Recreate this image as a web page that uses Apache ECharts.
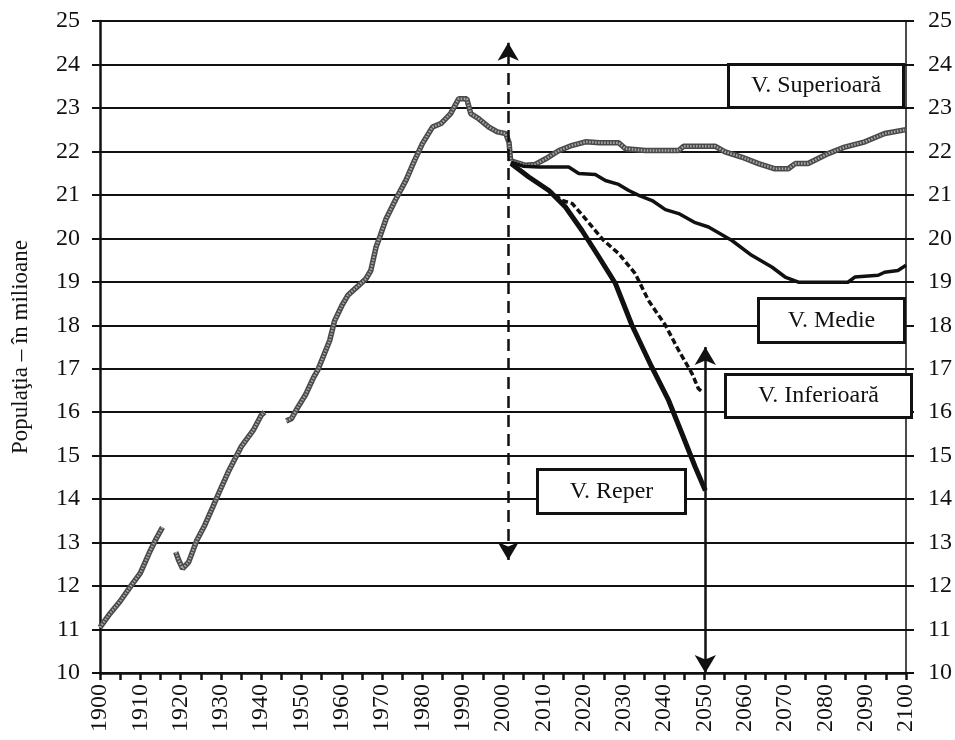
<!DOCTYPE html>
<html>
<head>
<meta charset="utf-8">
<script src="https://cdn.jsdelivr.net/npm/echarts@6/dist/echarts.min.js"></script>
<style>
  html, body { margin: 0; padding: 0; background: #fff; }
  #chart { width: 955px; height: 740px; }
</style>
</head>
<body>
<div id="chart"></div>
<script>
// historical population (millions), '-' breaks the line where data is missing
const historic = [
  [1900, 11.05], [1902.5, 11.37], [1905, 11.65], [1907.5, 11.98], [1910, 12.3], [1912.5, 12.82], [1914, 13.1], [1915.5, 13.35],
  [1917, '-'],
  [1918.8, 12.78], [1919.5, 12.6], [1920.5, 12.4], [1922, 12.55], [1924, 13.05], [1926, 13.4], [1928, 13.82], [1930, 14.25],
  [1932, 14.66], [1935, 15.2], [1938, 15.58], [1940, 15.93], [1940.8, 16.0],
  [1943, '-'],
  [1946.2, 15.8], [1947.5, 15.85], [1949, 16.1], [1951, 16.4], [1953, 16.8], [1954, 16.96], [1957, 17.65], [1958.2, 18.1],
  [1960, 18.45], [1961.5, 18.69], [1964, 18.9], [1966, 19.07], [1967.2, 19.26], [1968.5, 19.8], [1969.5, 20.05], [1971, 20.45],
  [1973.4, 20.9], [1976, 21.35], [1978, 21.78], [1980, 22.18], [1982.5, 22.56], [1984.6, 22.64], [1987, 22.87], [1989, 23.21],
  [1991, 23.21], [1992, 22.87], [1994, 22.75], [1996.5, 22.56], [1998.6, 22.45], [2000.7, 22.41], [2001.5, 22.2], [2001.9, 21.78]
];
const superioara = [
  [2002, 21.78], [2005.6, 21.68], [2008, 21.7], [2010.6, 21.83], [2013.9, 22.02], [2017.2, 22.14], [2020.5, 22.22], [2024, 22.2],
  [2028.7, 22.2], [2030.4, 22.06], [2035.3, 22.02], [2043.6, 22.02], [2044.8, 22.12], [2052.6, 22.12], [2055.1, 21.99],
  [2059.2, 21.87], [2063.4, 21.72], [2067.5, 21.6], [2070.8, 21.6], [2072.5, 21.72], [2075.7, 21.72], [2080.7, 21.95],
  [2084.8, 22.1], [2089.8, 22.22], [2094.7, 22.41], [2100, 22.5]
];
const medie = [
  [2002, 21.75], [2005, 21.66], [2008.9, 21.64], [2016.3, 21.64], [2018.8, 21.49], [2022.9, 21.47], [2025.4, 21.33],
  [2028.7, 21.24], [2031.2, 21.1], [2033.7, 20.99], [2037, 20.87], [2040.3, 20.66], [2043.6, 20.57], [2047.7, 20.36],
  [2051, 20.26], [2056.8, 19.95], [2061.7, 19.61], [2066.7, 19.34], [2070, 19.11], [2073.3, 18.99], [2085.6, 18.99],
  [2087.3, 19.11], [2093.1, 19.15], [2094.7, 19.22], [2098, 19.26], [2100, 19.38]
];
const inferioara = [
  [2002, 21.72], [2006.4, 21.41], [2011.4, 21.1], [2014.7, 20.87], [2017.2, 20.8], [2020, 20.5], [2022.9, 20.18], [2025, 19.95],
  [2028.7, 19.65], [2032.8, 19.19], [2036.1, 18.57], [2040.3, 18.0], [2043.6, 17.42], [2046.9, 16.89], [2048.5, 16.54], [2049.3, 16.48]
];
const reper = [
  [2002, 21.72], [2006.4, 21.41], [2011.4, 21.1], [2015.5, 20.72], [2019.6, 20.18], [2023.8, 19.57], [2027.9, 18.96],
  [2032, 18.0], [2036.9, 17.04], [2041.1, 16.27], [2044.4, 15.51], [2047.7, 14.74], [2050.2, 14.2]
];
// vertical double arrows: [year, from, to]
const arrowBase = [2001.3, 12.6, 24.5];
const arrowHorizon = [2050.2, 10.0, 17.5];

const labelNames = ['V. Superioară', 'V. Medie', 'V. Inferioară', 'V. Reper'];
const yAxisTitle = 'Populaţia – în milioane';

const FONT = '"Liberation Serif", "DejaVu Serif", serif';

const chart = echarts.init(document.getElementById('chart'), null, { renderer: 'canvas' });

function arrowLine(a, dashed) {
  return {
    silent: true,
    symbol: ['arrow', 'arrow'],
    symbolSize: [16, 18],
    label: { show: false },
    lineStyle: { color: '#111', width: 2.5, type: dashed ? [12, 7] : 'solid' },
    data: [[{ coord: [a[0], a[1]] }, { coord: [a[0], a[2]] }]]
  };
}

// box annotations (pixel layout)
function box(x, y, w, h, text) {
  return {
    type: 'group', left: x, top: y,
    children: [
      { type: 'rect', z: 100, shape: { x: 0, y: 0, width: w, height: h },
        style: { fill: '#fff', stroke: '#111', lineWidth: 3 } },
      { type: 'text', z: 101, x: w / 2, y: h / 2,
        style: { text: text, font: '24px ' + FONT, fill: '#111', align: 'center', verticalAlign: 'middle' } }
    ]
  };
}

const option = {
  backgroundColor: '#fff',
  animation: false,
  grid: { left: 100, right: 46, top: 21, bottom: 67 },
  xAxis: {
    type: 'value', min: 1900, max: 2100, interval: 5,
    axisLine: { lineStyle: { color: '#111', width: 2.5 } },
    axisTick: { show: true, length: 7, lineStyle: { color: '#111', width: 2.5 } },
    axisLabel: {
      rotate: 90, margin: 11, color: '#111', fontSize: 24, fontFamily: FONT,
      formatter: v => (v % 10 === 0 ? String(v) : '')
    },
    splitLine: { show: false }
  },
  yAxis: [{
    type: 'value', min: 10, max: 25, interval: 1,
    name: yAxisTitle, nameLocation: 'middle', nameGap: 68,
    nameTextStyle: { color: '#111', fontSize: 23, fontFamily: FONT },
    axisLine: { show: true, lineStyle: { color: '#111', width: 2.5 } },
    axisTick: { show: true, length: 8, lineStyle: { color: '#111', width: 2 } },
    axisLabel: { margin: 20, color: '#111', fontSize: 24, fontFamily: FONT },
    splitLine: { lineStyle: { color: '#111', width: 2 } }
  }, {
    type: 'value', min: 10, max: 25, interval: 1, position: 'right',
    axisLine: { show: true, lineStyle: { color: '#111', width: 1.5 } },
    axisTick: { show: true, length: 8, lineStyle: { color: '#111', width: 2 } },
    axisLabel: { margin: 22, color: '#111', fontSize: 24, fontFamily: FONT },
    splitLine: { show: false }
  }],
  series: [
    { name: 'istoric', type: 'line', data: historic, showSymbol: false, connectNulls: false,
      lineStyle: { color: '#4a4a4a', width: 5.5 }, z: 3 },
    { name: 'istoric-hatch', type: 'line', data: historic, showSymbol: false, connectNulls: false,
      lineStyle: { color: '#a8a8a8', width: 2.5, type: [1.5, 1.5] }, z: 4 },
    { name: labelNames[0], type: 'line', data: superioara, showSymbol: false,
      lineStyle: { color: '#4a4a4a', width: 5.5 }, z: 3 },
    { name: labelNames[0] + '-hatch', type: 'line', data: superioara, showSymbol: false,
      lineStyle: { color: '#a8a8a8', width: 2.5, type: [1.5, 1.5] }, z: 4 },
    { name: labelNames[1], type: 'line', data: medie, showSymbol: false,
      lineStyle: { color: '#111', width: 3.5 }, z: 5 },
    { name: labelNames[2], type: 'line', data: inferioara, showSymbol: false,
      lineStyle: { color: '#111', width: 3.5, type: [6, 3] }, z: 5,
      markLine: arrowLine(arrowBase, true) },
    { name: labelNames[3], type: 'line', data: reper, showSymbol: false,
      lineStyle: { color: '#111', width: 5 }, z: 6,
      markLine: arrowLine(arrowHorizon, false) }
  ],
  graphic: [
    box(727, 63, 175, 43, labelNames[0]),
    box(757, 297, 146, 44, labelNames[1]),
    box(724, 373, 186, 43, labelNames[2]),
    box(536, 468, 148, 44, labelNames[3])
  ]
};

chart.setOption(option);
</script>
</body>
</html>
